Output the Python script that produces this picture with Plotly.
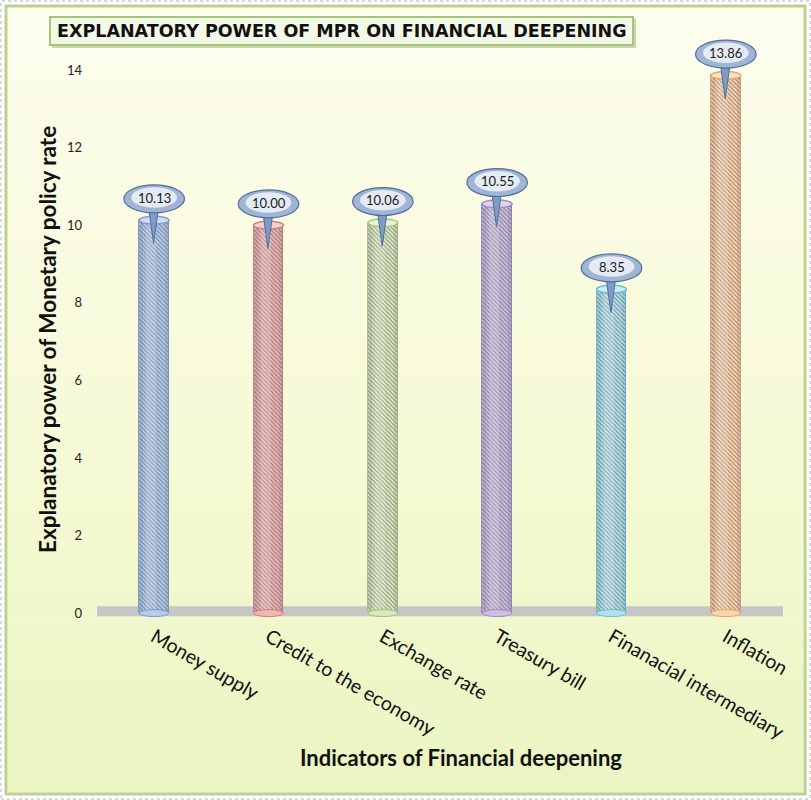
import plotly.graph_objects as go

# Data
indicators = ["Money supply", "Credit to the economy", "Exchange rate",
              "Treasury bill", "Finanacial intermediary", "Inflation"]
explanatory_power = [10.13, 10.00, 10.06, 10.55, 8.35, 13.86]
value_labels = ["10.13", "10.00", "10.06", "10.55", "8.35", "13.86"]
y_ticks = [0, 2, 4, 6, 8, 10, 12, 14]

# Styling
bar_fill = ["#b4cbec", "#eeb6b5", "#d9e8bf", "#cbbfe2", "#b2e2ec", "#f9d2ae"]
bar_edge = ["#7e9dcb", "#cf7f7d", "#a6c27f", "#9d8cc0", "#6dbcd0", "#e8a56c"]
cap_fill = ["#cddcf3", "#f6cfce", "#e8f1d6", "#ddd4ee", "#cdeef4", "#fce1c8"]
FONT = "Lato"

W, H = 811, 800
L, R, T, B = 97, 28, 39, 183
pw, ph = W - L - R, H - T - B


def px(x):
    return (x - L) / pw


def py(y):
    return (H - B - y) / ph


x_idx = list(range(len(indicators)))
bar_w = 0.262

fig = go.Figure()

# Main cylinders with fine diagonal hatching
fig.add_trace(go.Bar(
    x=x_idx, y=explanatory_power, width=bar_w,
    marker=dict(color=bar_fill,
                line=dict(color=bar_edge, width=1),
                pattern=dict(shape="\\", size=3, solidity=0.3,
                             fgcolor="white", fgopacity=0.6, fillmode="overlay")),
    hoverinfo="skip", showlegend=False,
))
# Cylinder shading: slightly darker edges, lighter centre
for off, w, col in [(-bar_w / 2, 0.035, "rgba(60,60,90,0.10)"),
                    (bar_w / 2 - 0.035, 0.035, "rgba(60,60,90,0.10)"),
                    (-0.07, 0.09, "rgba(255,255,255,0.18)")]:
    fig.add_trace(go.Bar(
        x=x_idx, y=explanatory_power, width=w, offset=off,
        marker=dict(color=col, line=dict(width=0)),
        hoverinfo="skip", showlegend=False,
    ))

shapes = []

# Background frame with soft vertical gradient
top_c = (253, 253, 238)
mid_c = (247, 250, 216)
bot_c = (235, 245, 194)
n = 60
y_top, y_bot = 8, 792
for i in range(n):
    t = i / (n - 1)
    if t < 0.5:
        a, b, tt = top_c, mid_c, t / 0.5
    else:
        a, b, tt = mid_c, bot_c, (t - 0.5) / 0.5
    c = tuple(round(a[k] + (b[k] - a[k]) * tt) for k in range(3))
    y0 = y_top + (y_bot - y_top) * i / n
    y1 = y_top + (y_bot - y_top) * (i + 1) / n
    shapes.append(dict(type="rect", xref="paper", yref="paper", layer="below",
                       x0=px(8), x1=px(803), y0=py(y1 + 0.5), y1=py(y0),
                       fillcolor="rgb(%d,%d,%d)" % c, line=dict(width=0)))
shapes.append(dict(type="rect", xref="paper", yref="paper", layer="below",
                   x0=px(6), x1=px(805), y0=py(794), y1=py(6),
                   fillcolor="rgba(0,0,0,0)", line=dict(color="#b9d28e", width=3)))
shapes.append(dict(type="rect", xref="paper", yref="paper", layer="below",
                   x0=px(1), x1=px(810), y0=py(799), y1=py(1),
                   fillcolor="rgba(0,0,0,0)", line=dict(color="#b0b0b0", width=1, dash="dot")))

# Title box
shapes.append(dict(type="rect", xref="paper", yref="paper", layer="below",
                   x0=px(52), x1=px(636), y0=py(48), y1=py(19),
                   fillcolor="#c9d9a8", line=dict(width=0)))
shapes.append(dict(type="rect", xref="paper", yref="paper", layer="below",
                   x0=px(50), x1=px(633), y0=py(45), y1=py(17),
                   fillcolor="#f4f8e6", line=dict(color="#a6c47a", width=2)))

# Floor slab
shapes.append(dict(type="rect", xref="x", yref="y", layer="below",
                   x0=-0.5, x1=5.5, y0=-0.08, y1=0.18,
                   fillcolor="#c6c6c6", line=dict(width=0)))

for i, v in enumerate(explanatory_power):
    # bottom and top caps of each cylinder
    shapes.append(dict(type="circle", xref="x", yref="y",
                       x0=i - bar_w / 2, x1=i + bar_w / 2, y0=-0.09, y1=0.09,
                       fillcolor=bar_fill[i], line=dict(color=bar_edge[i], width=1)))
    shapes.append(dict(type="circle", xref="x", yref="y",
                       x0=i - bar_w / 2, x1=i + bar_w / 2, y0=v - 0.1, y1=v + 0.1,
                       fillcolor=cap_fill[i], line=dict(color=bar_edge[i], width=1.5)))

    # speech bubble callout: tail then body
    cy = v + 0.55
    shapes.append(dict(type="path", xref="x", yref="y",
                       path="M %f,%f L %f,%f L %f,%f Z" % (i - 0.05, cy - 0.2, i - 0.005, v - 0.6,
                                                           i + 0.04, cy - 0.2),
                       fillcolor="#7f9cc4", line=dict(color="#4f6f9c", width=1)))
    shapes.append(dict(type="circle", xref="x", yref="y",
                       x0=i - 0.265, x1=i + 0.265, y0=cy - 0.36, y1=cy + 0.36,
                       fillcolor="#9fb5d3", line=dict(color="#4f6f9c", width=1.2)))
    shapes.append(dict(type="circle", xref="x", yref="y",
                       x0=i - 0.2, x1=i + 0.2, y0=cy - 0.23, y1=cy + 0.3,
                       fillcolor="rgba(240,244,250,0.85)", line=dict(width=0)))

annotations = []
for i, v in enumerate(explanatory_power):
    annotations.append(dict(x=i, y=v + 0.58, xref="x", yref="y", text=value_labels[i],
                            xanchor="center", yanchor="middle",
                            showarrow=False, font=dict(family=FONT, size=13, color="#1a1a1a")))

# Title
title_text = "EXPLANATORY POWER OF MPR ON FINANCIAL DEEPENING"
annotations.append(dict(x=px(342), y=py(31), xref="paper", yref="paper",
                        xanchor="center", yanchor="middle",
                        text="<b>%s</b>" % title_text, showarrow=False,
                        font=dict(family="DejaVu Sans", size=17.5, color="#111111")))

# Axis titles
annotations.append(dict(x=px(47), y=py(340), xref="paper", yref="paper",
                        xanchor="center", yanchor="middle",
                        text="<b>Explanatory power of Monetary policy rate</b>",
                        textangle=-90, showarrow=False,
                        font=dict(family=FONT, size=22.5, color="#111111")))
annotations.append(dict(x=px(461), y=py(757), xref="paper", yref="paper",
                        xanchor="center", yanchor="middle",
                        text="<b>Indicators of Financial deepening</b>",
                        showarrow=False,
                        font=dict(family=FONT, size=22, color="#111111")))

fig.update_layout(
    width=W, height=H,
    margin=dict(l=L, r=R, t=T, b=B, pad=0),
    paper_bgcolor="#ffffff", plot_bgcolor="rgba(0,0,0,0)",
    barmode="overlay", bargap=0,
    shapes=shapes, annotations=annotations,
    showlegend=False,
    xaxis=dict(range=[-0.5, 5.5], tickvals=x_idx, ticktext=indicators,
               tickangle=30, showgrid=False, zeroline=False, showline=False,
               ticks="", ticklabelstandoff=4,
               tickfont=dict(family=FONT, size=19.5, color="#111111")),
    yaxis=dict(range=[-0.1, 14.8], tickvals=y_ticks, showgrid=False, zeroline=False,
               showline=False, ticks="", ticklabelstandoff=14,
               tickfont=dict(family=FONT, size=13, color="#222222")),
)

fig.write_html("out.html")
